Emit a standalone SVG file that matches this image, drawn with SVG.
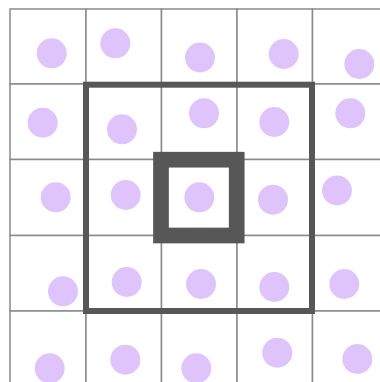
<svg xmlns="http://www.w3.org/2000/svg" width="380" height="382" viewBox="0 0 380 382">
<style>
.cell{fill:#fff;stroke:#8a8a8a;stroke-width:1.5}
.dot{fill:#dfc4fc}
.frame{fill:none;stroke:#575757}
</style>
<rect width="380" height="382" fill="#fff"/>
<g id="grid">
<rect class="cell" x="10" y="9" width="76" height="75"/>
<rect class="cell" x="86" y="9" width="75.5" height="75"/>
<rect class="cell" x="161.5" y="9" width="75.5" height="75"/>
<rect class="cell" x="237" y="9" width="75.5" height="75"/>
<rect class="cell" x="312.5" y="9" width="76" height="75"/>
<rect class="cell" x="10" y="84" width="76" height="75.5"/>
<rect class="cell" x="86" y="84" width="75.5" height="75.5"/>
<rect class="cell" x="161.5" y="84" width="75.5" height="75.5"/>
<rect class="cell" x="237" y="84" width="75.5" height="75.5"/>
<rect class="cell" x="312.5" y="84" width="76" height="75.5"/>
<rect class="cell" x="10" y="159.5" width="76" height="76"/>
<rect class="cell" x="86" y="159.5" width="75.5" height="76"/>
<rect class="cell" x="161.5" y="159.5" width="75.5" height="76"/>
<rect class="cell" x="237" y="159.5" width="75.5" height="76"/>
<rect class="cell" x="312.5" y="159.5" width="76" height="76"/>
<rect class="cell" x="10" y="235.5" width="76" height="75.5"/>
<rect class="cell" x="86" y="235.5" width="75.5" height="75.5"/>
<rect class="cell" x="161.5" y="235.5" width="75.5" height="75.5"/>
<rect class="cell" x="237" y="235.5" width="75.5" height="75.5"/>
<rect class="cell" x="312.5" y="235.5" width="76" height="75.5"/>
<rect class="cell" x="10" y="311" width="76" height="76"/>
<rect class="cell" x="86" y="311" width="75.5" height="76"/>
<rect class="cell" x="161.5" y="311" width="75.5" height="76"/>
<rect class="cell" x="237" y="311" width="75.5" height="76"/>
<rect class="cell" x="312.5" y="311" width="76" height="76"/>
</g>
<g id="dots">
<circle class="dot" cx="51.7" cy="53.3" r="15"/>
<circle class="dot" cx="115.3" cy="43.3" r="15"/>
<circle class="dot" cx="200" cy="57.5" r="15"/>
<circle class="dot" cx="283.7" cy="54" r="15"/>
<circle class="dot" cx="359.3" cy="64" r="15"/>
<circle class="dot" cx="42.7" cy="122.7" r="15"/>
<circle class="dot" cx="122" cy="129.3" r="15"/>
<circle class="dot" cx="204" cy="113.3" r="15"/>
<circle class="dot" cx="274.3" cy="122" r="15"/>
<circle class="dot" cx="350.3" cy="113.3" r="15"/>
<circle class="dot" cx="55.7" cy="197.3" r="15"/>
<circle class="dot" cx="125.7" cy="195" r="15"/>
<circle class="dot" cx="199.3" cy="197.3" r="15"/>
<circle class="dot" cx="273" cy="199.7" r="15"/>
<circle class="dot" cx="337" cy="190.5" r="15"/>
<circle class="dot" cx="63" cy="291.3" r="15"/>
<circle class="dot" cx="126.7" cy="282" r="15"/>
<circle class="dot" cx="201" cy="284" r="15"/>
<circle class="dot" cx="274.3" cy="287" r="15"/>
<circle class="dot" cx="344.3" cy="284" r="15"/>
<circle class="dot" cx="49.7" cy="368.3" r="15"/>
<circle class="dot" cx="125.3" cy="359.7" r="15"/>
<circle class="dot" cx="196.3" cy="368.3" r="15"/>
<circle class="dot" cx="277.3" cy="352.7" r="15"/>
<circle class="dot" cx="357.3" cy="359" r="15"/>
</g>
<g id="outer-frame">
<rect class="frame" x="86" y="84.7" width="226" height="226.3" stroke-width="6"/>
</g>
<g id="inner-frame">
<rect class="frame" x="161" y="159.7" width="75.7" height="75.8" stroke-width="15.7"/>
</g>
</svg>
